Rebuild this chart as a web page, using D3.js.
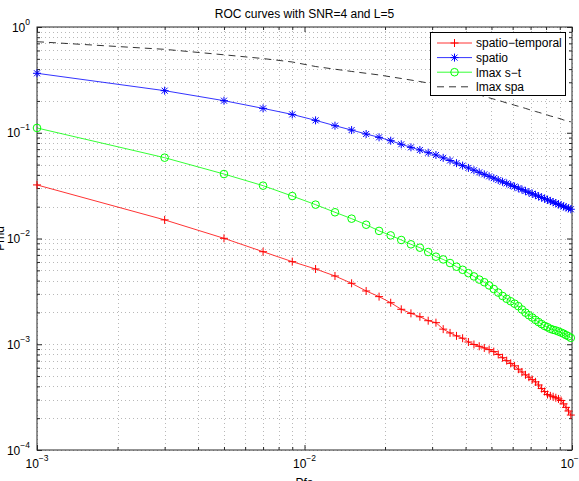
<!DOCTYPE html>
<html>
<head>
<meta charset="utf-8">
<script src="https://cdn.jsdelivr.net/npm/d3@7"></script>
<style>
  body { margin: 0; background: #fff; }
  text { font-family: "Liberation Sans", Arial, sans-serif; fill: #000; }
</style>
</head>
<body>
<div id="chart"></div>
<script>
// Pfa values: 0.001, 0.003, ... 0.099
var pfa = [0.001,0.003,0.005,0.007,0.009,0.011,0.013,0.015,0.017,0.019,
           0.021,0.023,0.025,0.027,0.029,0.031,0.033,0.035,0.037,0.039,
           0.041,0.043,0.045,0.047,0.049,0.051,0.053,0.055,0.057,0.059,
           0.061,0.063,0.065,0.067,0.069,0.071,0.073,0.075,0.077,0.079,
           0.081,0.083,0.085,0.087,0.089,0.091,0.093,0.095,0.097,0.099];

var spatioTemporal = [0.0321,0.0150,0.01004,0.00750,0.00604,0.00515,0.00442,0.00377,0.00319,0.00282,
  0.00247,0.00214,0.00196,0.00182,0.00167,0.00160,0.00139,0.00128,0.00120,0.00114,
  0.00105,0.000995,0.000957,0.000923,0.000890,0.000852,0.000801,0.000746,0.000700,0.000659,
  0.000625,0.000581,0.000547,0.000514,0.000488,0.000463,0.000441,0.000412,0.000381,0.000357,
  0.000335,0.000325,0.000319,0.000312,0.000304,0.000294,0.000273,0.000253,0.000234,0.000214];

var spatio = [0.365,0.250,0.201,0.170,0.149,0.131,0.1166,0.106,0.0973,0.0905,
  0.0841,0.0778,0.0728,0.0687,0.0648,0.0616,0.0579,0.0546,0.0516,0.0489,
  0.0465,0.0442,0.0422,0.0404,0.0387,0.0372,0.0357,0.0344,0.0332,0.0320,
  0.0310,0.0299,0.0290,0.0281,0.0273,0.0265,0.0258,0.0251,0.0244,0.0238,
  0.0232,0.0226,0.0221,0.0216,0.0210,0.0206,0.0201,0.0197,0.0193,0.0189];

var lmaxST = [0.111,0.0581,0.0407,0.0316,0.0252,0.0209,0.0177,0.0154,0.0135,0.0118,
  0.0107,0.00968,0.00881,0.00819,0.00745,0.00673,0.00634,0.00586,0.00541,0.00506,
  0.00470,0.00438,0.00409,0.00386,0.00360,0.00333,0.00308,0.00286,0.00269,0.00255,
  0.00242,0.00229,0.00213,0.00199,0.00188,0.00179,0.00170,0.00162,0.00155,0.00149,
  0.00145,0.00140,0.00137,0.00135,0.00132,0.00129,0.00126,0.00122,0.00119,0.00115];

var lmaxSpa = [0.726,0.615,0.546,0.503,0.467,0.423,0.399,0.380,0.365,0.352,
  0.338,0.326,0.315,0.305,0.295,0.285,0.275,0.266,0.257,0.249,
  0.242,0.234,0.229,0.221,0.214,0.208,0.202,0.197,0.191,0.187,
  0.182,0.178,0.174,0.170,0.166,0.162,0.159,0.156,0.153,0.150,
  0.147,0.144,0.142,0.139,0.137,0.135,0.132,0.131,0.128,0.127];

var seriesNames = ["spatio\u2212temporal", "spatio", "lmax s\u2212t", "lmax spa"];
var seriesColors = ["#ff0000", "#0000ff", "#00ff00", "#000000"];
var seriesMarkers = ["plus", "star", "circle", "none"];
var seriesValues = [spatioTemporal, spatio, lmaxST, lmaxSpa];

var xTicks = [1e-3, 1e-2, 1e-1],
    xExp = ["\u22123", "\u22122", "\u22121"];
var yTicks = [1e0, 1e-1, 1e-2, 1e-3, 1e-4],
    yExp = ["0", "\u22121", "\u22122", "\u22123", "\u22124"];

var svgWidth = 579, svgHeight = 481;
var plotLeft = 37, plotRight = 572, plotTop = 27, plotBottom = 450;

var x = d3.scaleLog().domain([1e-3, 1e-1]).range([plotLeft, plotRight]);
var y = d3.scaleLog().domain([1e-4, 1]).range([plotBottom, plotTop]);

// minor tick values
var xMinor = [], yMinor = [];
[1e-3, 1e-2].forEach(function(d){ for (var m = 2; m <= 9; m++) xMinor.push(d*m); });
[1e-4, 1e-3, 1e-2, 1e-1].forEach(function(d){ for (var m = 2; m <= 9; m++) yMinor.push(d*m); });

var svg = d3.select("#chart").append("svg")
  .attr("width", svgWidth)
  .attr("height", svgHeight);

svg.append("rect").attr("width", svgWidth).attr("height", svgHeight).attr("fill", "#fff");

// GRID.
var grid = svg.append("g")
  .attr("stroke", "#9a9a9a")
  .attr("stroke-width", 0.7)
  .attr("stroke-dasharray", "1,3");

grid.selectAll(".gx").data(xTicks.concat(xMinor)).enter()
  .append("line")
  .attr("x1", function(d){ return Math.round(x(d)) + 0.5; })
  .attr("x2", function(d){ return Math.round(x(d)) + 0.5; })
  .attr("y1", plotTop).attr("y2", plotBottom);

grid.selectAll(".gy").data(yTicks.concat(yMinor)).enter()
  .append("line")
  .attr("y1", function(d){ return Math.round(y(d)) + 0.5; })
  .attr("y2", function(d){ return Math.round(y(d)) + 0.5; })
  .attr("x1", plotLeft).attr("x2", plotRight);

// AXES (ticks inside, box on).
function addAxis(axisFn, scale, vals, size, tx, ty) {
  var g = svg.append("g")
    .attr("transform", "translate(" + tx + "," + ty + ")")
    .call(axisFn(scale).tickValues(vals).tickSizeInner(-size).tickSizeOuter(0).tickFormat(""));
  g.select(".domain").remove();
  g.selectAll("line").attr("stroke", "#262626");
  return g;
}
addAxis(d3.axisBottom, x, xTicks, 5, 0, plotBottom);
addAxis(d3.axisBottom, x, xMinor, 3, 0, plotBottom);
addAxis(d3.axisTop, x, xTicks, 5, 0, plotTop);
addAxis(d3.axisTop, x, xMinor, 3, 0, plotTop);
addAxis(d3.axisLeft, y, yTicks, 5, plotLeft, 0);
addAxis(d3.axisLeft, y, yMinor, 3, plotLeft, 0);
addAxis(d3.axisRight, y, yTicks, 5, plotRight, 0);
addAxis(d3.axisRight, y, yMinor, 3, plotRight, 0);

svg.append("rect")
  .attr("x", plotLeft).attr("y", plotTop)
  .attr("width", plotRight - plotLeft).attr("height", plotBottom - plotTop)
  .attr("fill", "none").attr("stroke", "#262626").attr("stroke-width", 1);

// TICK LABELS.
var xl = svg.selectAll(".xl").data(xTicks).enter()
  .append("text")
  .attr("x", function(d){ return x(d); })
  .attr("y", 468)
  .attr("text-anchor", "middle")
  .attr("font-size", "12px");
xl.append("tspan").text("10");
xl.append("tspan").attr("dy", -7).attr("font-size", "8.5px")
  .text(function(d, i){ return xExp[i]; });

var yl = svg.selectAll(".yl").data(yTicks).enter()
  .append("text")
  .attr("x", 30)
  .attr("y", function(d){ return y(d) + 4.5; })
  .attr("text-anchor", "end")
  .attr("font-size", "12px");
yl.append("tspan").text("10");
yl.append("tspan").attr("dy", -7).attr("font-size", "8.5px")
  .text(function(d, i){ return yExp[i]; });

// TITLE & AXIS LABELS.
svg.append("text")
  .attr("x", (plotLeft + plotRight) / 2).attr("y", 18)
  .attr("text-anchor", "middle").attr("font-size", "12px")
  .text("ROC curves with SNR=4 and L=5");

svg.append("text")
  .attr("x", (plotLeft + plotRight) / 2).attr("y", 487)
  .attr("text-anchor", "middle").attr("font-size", "12px")
  .text("Pfa");

svg.append("text")
  .attr("transform", "translate(4," + (plotTop + plotBottom) / 2 + ") rotate(-90)")
  .attr("text-anchor", "middle").attr("font-size", "12px")
  .text("Pmd");

// MARKERS.
function drawMarker(g, type, cx, cy, color) {
  var s = 4;
  if (type === "plus" || type === "star") {
    g.append("line").attr("x1", cx - s).attr("x2", cx + s).attr("y1", cy).attr("y2", cy).attr("stroke", color);
    g.append("line").attr("x1", cx).attr("x2", cx).attr("y1", cy - s).attr("y2", cy + s).attr("stroke", color);
  }
  if (type === "star") {
    var d = s * 0.75;
    g.append("line").attr("x1", cx - d).attr("x2", cx + d).attr("y1", cy - d).attr("y2", cy + d).attr("stroke", color);
    g.append("line").attr("x1", cx - d).attr("x2", cx + d).attr("y1", cy + d).attr("y2", cy - d).attr("stroke", color);
  }
  if (type === "circle") {
    g.append("circle").attr("cx", cx).attr("cy", cy).attr("r", 3.8)
      .attr("fill", "none").attr("stroke", color);
  }
}

// LINES.
var line = d3.line()
  .x(function(d){ return x(d[0]); })
  .y(function(d){ return y(d[1]); });

seriesValues.forEach(function(vals, si){
  var pts = pfa.map(function(p, i){ return [p, vals[i]]; });
  var g = svg.append("g");
  g.append("path")
    .attr("d", line(pts))
    .attr("fill", "none")
    .attr("stroke", seriesColors[si])
    .attr("stroke-width", 0.8)
    .attr("stroke-dasharray", seriesMarkers[si] === "none" ? "7,5" : null);
  if (seriesMarkers[si] !== "none")
    pts.forEach(function(d){
      drawMarker(g, seriesMarkers[si], x(d[0]), y(d[1]), seriesColors[si]);
    });
});

// LEGEND.
var lg = svg.append("g");
lg.append("rect")
  .attr("x", 430.5).attr("y", 32.5)
  .attr("width", 135).attr("height", 63)
  .attr("fill", "#fff").attr("stroke", "#000").attr("stroke-width", 1);

seriesNames.forEach(function(name, i){
  var ly = 43 + i * 14.6;
  lg.append("line")
    .attr("x1", 437).attr("x2", 472).attr("y1", ly).attr("y2", ly)
    .attr("stroke", seriesColors[i]).attr("stroke-width", 0.8)
    .attr("stroke-dasharray", seriesMarkers[i] === "none" ? "7,5" : null);
  if (seriesMarkers[i] !== "none") drawMarker(lg, seriesMarkers[i], 454.5, ly, seriesColors[i]);
  lg.append("text")
    .attr("x", 476).attr("y", ly + 4.3)
    .attr("font-size", "12px")
    .text(name);
});
</script>
</body>
</html>
